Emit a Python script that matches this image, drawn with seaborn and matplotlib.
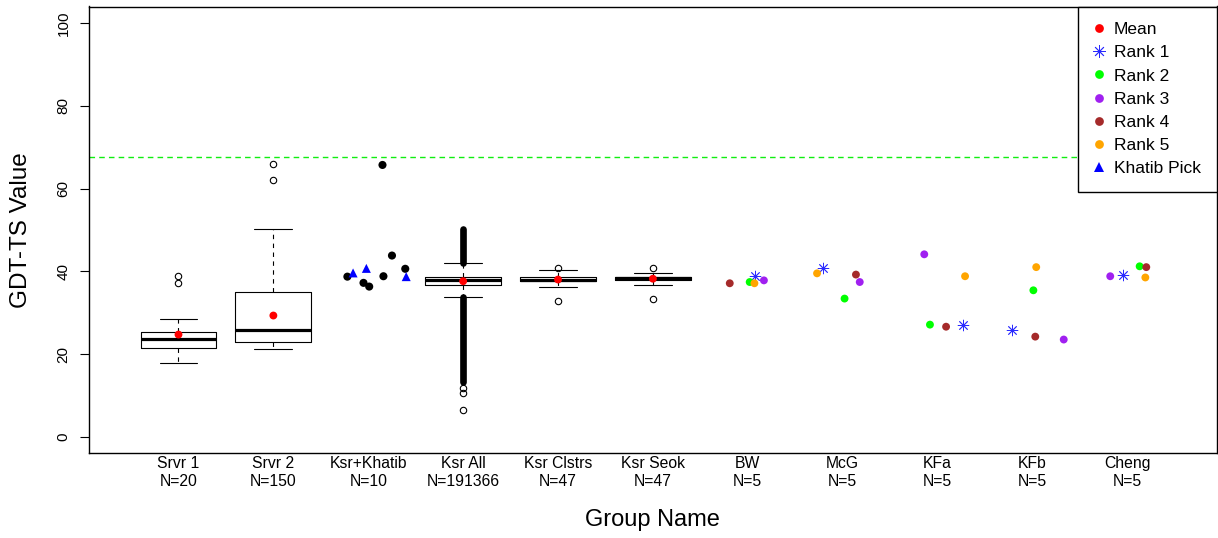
import numpy as np
import pandas as pd
import matplotlib
matplotlib.use("Agg")
import matplotlib.pyplot as plt
from matplotlib.lines import Line2D
import seaborn as sns

# ---------------- data ----------------
groups = ["Srvr 1", "Srvr 2", "Ksr+Khatib", "Ksr All", "Ksr Clstrs", "Ksr Seok",
          "BW", "McG", "KFa", "KFb", "Cheng"]
group_n = [20, 150, 10, 191366, 47, 47, 5, 5, 5, 5, 5]

# box-plot summaries
box_groups = ["Srvr 1", "Srvr 2", "Ksr All", "Ksr Clstrs", "Ksr Seok"]
box_whislo = [17.9, 21.1, 33.7, 36.1, 36.6]
box_q1 = [21.5, 23.0, 36.8, 37.6, 37.9]
box_med = [23.6, 25.9, 37.8, 38.0, 38.3]
box_q3 = [25.2, 34.9, 38.65, 38.5, 38.7]
box_whishi = [28.5, 50.3, 42.0, 40.2, 39.7]
box_mean = [24.7, 29.3, 37.6, 38.0, 38.2]
box_fliers = [[37.2, 38.8], [62.0, 65.9], [11.7, 10.5, 6.5], [40.8, 32.9], [40.8, 33.2]]

# Ksr All (191366 models): outliers form continuous runs
dense_flier_group = "Ksr All"
dense_flier_low = [42.0, 13.3]
dense_flier_high = [50.1, 33.7]

# Ksr+Khatib individual models
khatib_group = "Ksr+Khatib"
khatib_other_values = [65.7, 43.8, 40.6, 38.8, 38.7, 37.2, 36.3]
khatib_other_jitter = [0.15, 0.25, 0.39, 0.16, -0.22, -0.05, 0.01]
khatib_pick_values = [39.6, 40.7, 38.7]
khatib_pick_jitter = [-0.16, -0.02, 0.40]

# ranked models of the other methods
method_groups = ["BW", "McG", "KFa", "KFb", "Cheng"]
rank1 = [38.8, 40.8, 27.0, 25.7, 39.1]
rank2 = [37.4, 33.4, 27.1, 35.4, 41.2]
rank3 = [37.8, 37.4, 44.1, 23.5, 38.8]
rank4 = [37.1, 39.2, 26.6, 24.2, 41.0]
rank5 = [37.1, 39.5, 38.8, 41.0, 38.5]
rank1_jitter = [0.08, -0.21, 0.27, -0.22, -0.05]
rank2_jitter = [0.02, 0.02, -0.08, 0.01, 0.13]
rank3_jitter = [0.17, 0.18, -0.14, 0.33, -0.18]
rank4_jitter = [-0.19, 0.14, 0.09, 0.03, 0.20]
rank5_jitter = [0.07, -0.27, 0.29, 0.04, 0.19]

reference_value = 67.7

# ---------------- style ----------------
sns.set_theme(style="white")
plt.rcParams["font.family"] = ["Liberation Sans", "DejaVu Sans"]
plt.rcParams["axes.edgecolor"] = "black"
plt.rcParams["axes.linewidth"] = 1.0
for k in ["text.color", "axes.labelcolor", "xtick.color", "ytick.color"]:
    plt.rcParams[k] = "black"

fig = plt.figure(figsize=(12.18, 5.38), dpi=100)
W, H = 1218.0, 538.0
ax = fig.add_axes([89.3 / W, 1 - 453.3 / H, (1216.5 - 89.3) / W, (453.3 - 6.5) / H])

pos = {g: i for i, g in enumerate(groups)}

# ---------------- boxes ----------------
stats = []
for i, g in enumerate(box_groups):
    stats.append(dict(med=box_med[i], q1=box_q1[i], q3=box_q3[i],
                      whislo=box_whislo[i], whishi=box_whishi[i],
                      fliers=box_fliers[i], label=g))
ax.bxp(stats, positions=[pos[g] for g in box_groups], widths=0.8, capwidths=0.4,
       showfliers=True, manage_ticks=False,
       boxprops=dict(color="black", lw=0.8),
       medianprops=dict(color="black", lw=2.3, solid_capstyle="butt"),
       whiskerprops=dict(color="black", lw=0.8, linestyle=(0, (4, 4))),
       capprops=dict(color="black", lw=0.8),
       flierprops=dict(marker="o", markerfacecolor="none", markeredgecolor="black",
                       markersize=4.6, markeredgewidth=0.8))

lc = ax.vlines([pos[dense_flier_group]] * len(dense_flier_low), dense_flier_low,
               dense_flier_high, colors="black", lw=4.8, zorder=2)
lc.set_capstyle("round")

# means
sns.scatterplot(x=[pos[g] for g in box_groups], y=box_mean, color="red", s=32,
                edgecolor="none", ax=ax, zorder=4)

# Ksr+Khatib
kx = pos[khatib_group]
sns.scatterplot(x=[kx + j for j in khatib_other_jitter], y=khatib_other_values,
                color="black", s=34, edgecolor="none", ax=ax, zorder=3)
sns.scatterplot(x=[kx + j for j in khatib_pick_jitter], y=khatib_pick_values,
                color="blue", marker="^", s=42, edgecolor="none", ax=ax, zorder=3)

# ranks
rank_colors = ["#2a2aff", "#00FF00", "#A020F0", "#A52A2A", "#FFA500"]
rank_vals = [rank1, rank2, rank3, rank4, rank5]
rank_jit = [rank1_jitter, rank2_jitter, rank3_jitter, rank4_jitter, rank5_jitter]
for r in range(5):
    xs = [pos[g] + rank_jit[r][i] for i, g in enumerate(method_groups)]
    if r == 0:
        sns.scatterplot(x=xs, y=rank_vals[r], marker=(8, 2, 0), s=60,
                        color=rank_colors[0], edgecolor=rank_colors[0], linewidth=0.6,
                        ax=ax, zorder=3)
    else:
        sns.scatterplot(x=xs, y=rank_vals[r], color=rank_colors[r], s=32,
                        edgecolor="none", ax=ax, zorder=3)

ax.axhline(reference_value, color="#11EE11", lw=1.0, linestyle=(0, (4, 3)), zorder=1)

# ---------------- axes ----------------
ax.set_xlim(-0.94, 10.94)
ax.set_ylim(-4, 104)
ax.set_xticks(range(len(groups)))
ax.set_xticklabels([f"{g}\nN={n}" for g, n in zip(groups, group_n)], fontsize=11.3,
                   linespacing=1.25)
ax.tick_params(axis="x", length=0, pad=2)
ax.set_yticks([0, 20, 40, 60, 80, 100])
ax.set_yticklabels(["0", "20", "40", "60", "80", "100"], rotation=90, va="center",
                   fontsize=11)
ax.tick_params(axis="y", length=6.5, width=0.8, pad=7, color="black", left=True)
for s in ax.spines.values():
    s.set_visible(True)
    s.set_color("black")
    s.set_linewidth(1.0)

ax.set_xlabel("Group Name", fontsize=17, va="center")
ax.xaxis.set_label_coords(0.5, (453.3 - 520) / (453.3 - 6.5))
ax.set_ylabel("GDT-TS Value", fontsize=17.5, va="center")
ax.yaxis.set_label_coords((21 - 89.3) / (1216.5 - 89.3), 0.5)

# ---------------- legend ----------------
handles = [
    Line2D([], [], marker="o", color="red", linestyle="none", markersize=6.3, markeredgewidth=0),
    Line2D([], [], marker=(8, 2, 0), color="#2a2aff", linestyle="none", markersize=9, markeredgewidth=0.6),
    Line2D([], [], marker="o", color="#00FF00", linestyle="none", markersize=6.3, markeredgewidth=0),
    Line2D([], [], marker="o", color="#A020F0", linestyle="none", markersize=6.3, markeredgewidth=0),
    Line2D([], [], marker="o", color="#A52A2A", linestyle="none", markersize=6.3, markeredgewidth=0),
    Line2D([], [], marker="o", color="#FFA500", linestyle="none", markersize=6.3, markeredgewidth=0),
    Line2D([], [], marker="^", color="blue", linestyle="none", markersize=7, markeredgewidth=0),
]
labels = ["Mean", "Rank 1", "Rank 2", "Rank 3", "Rank 4", "Rank 5", "Khatib Pick"]
leg = ax.legend(handles, labels, loc="upper right", borderaxespad=0, frameon=True,
                fancybox=False, edgecolor="black", framealpha=1, fontsize=12.5,
                handlelength=0.6, handletextpad=0.55, labelspacing=0.46, borderpad=0.9)
leg.get_frame().set_linewidth(1.0)

fig.savefig("out.png", dpi=100)
